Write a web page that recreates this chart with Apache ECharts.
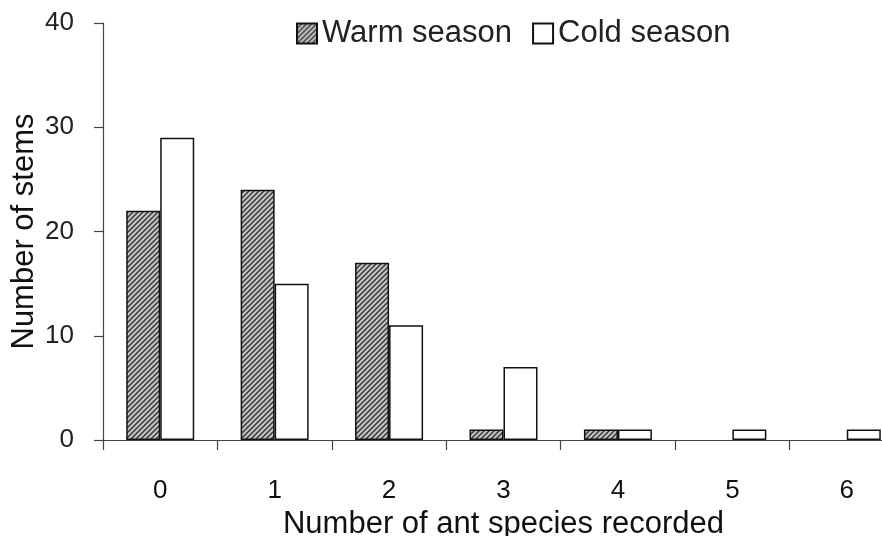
<!DOCTYPE html>
<html>
<head>
<meta charset="utf-8">
<script src="https://cdn.jsdelivr.net/npm/echarts@6/dist/echarts.min.js"></script>
<style>html,body{margin:0;padding:0;background:#fff;}#c{width:882px;height:536px;}</style>
</head>
<body>
<div id="c"></div>
<script>
const categories = ['0', '1', '2', '3', '4', '5', '6'];
const warmSeason = [22, 24, 17, 1, 1, 0, 0];
const coldSeason = [29, 15, 11, 7, 1, 1, 1];
const yTicks = [0, 10, 20, 30, 40];

function hatch() {
  const c = document.createElement('canvas');
  c.width = 5; c.height = 5;
  const g = c.getContext('2d');
  g.fillStyle = '#c4c4c4';
  g.fillRect(0, 0, 5, 5);
  g.strokeStyle = '#333';
  g.lineWidth = 1.4;
  g.beginPath();
  g.moveTo(-1, 6); g.lineTo(6, -1);
  g.moveTo(-1, 1); g.lineTo(1, -1);
  g.moveTo(4, 6); g.lineTo(6, 4);
  g.stroke();
  return c;
}

const hideZero = arr => arr.map(v => (v === 0 ? '-' : v));

const chart = echarts.init(document.getElementById('c'));
const font = 'Liberation Sans, Arial, sans-serif';
chart.setOption({
  backgroundColor: '#fff',
  animation: false,
  textStyle: { fontFamily: font, color: '#111' },
  legend: {
    left: 291, top: 13,
    icon: 'rect',
    itemWidth: 20, itemHeight: 20, itemGap: 20,
    textStyle: { fontSize: 31, fontFamily: font, color: '#222', padding: [0, 0, 0, 0] },
    data: ['Warm season', 'Cold season']
  },
  grid: { left: 103, top: 23, bottom: 96, width: 801, containLabel: false, outerBoundsMode: 'none' },
  xAxis: {
    type: 'category',
    data: categories,
    name: 'Number of ant species recorded',
    nameLocation: 'middle',
    nameGap: 64,
    nameTextStyle: { fontSize: 31, fontFamily: font, color: '#111' },
    axisLine: { lineStyle: { color: '#444', width: 1.2 } },
    axisTick: { show: true, length: 10, inside: false, lineStyle: { color: '#444', width: 1.2 } },
    axisLabel: { fontSize: 26, margin: 38, color: '#111', fontFamily: font }
  },
  yAxis: {
    type: 'value',
    min: yTicks[0], max: yTicks[yTicks.length - 1], interval: 10,
    name: 'Number of stems',
    nameLocation: 'middle',
    nameGap: 63,
    nameMoveOverlap: false,
    nameTextStyle: { fontSize: 31, fontFamily: font, color: '#111' },
    splitLine: { show: false },
    axisLine: { show: true, lineStyle: { color: '#444', width: 1.2 } },
    axisTick: { show: true, length: 9, lineStyle: { color: '#444', width: 1.2 } },
    axisLabel: { fontSize: 26, margin: 29, color: '#222', fontFamily: font }
  },
  series: [
    {
      name: 'Warm season', type: 'bar', data: hideZero(warmSeason),
      barWidth: 34, barGap: '0%',
      itemStyle: { color: { image: hatch(), repeat: 'repeat' }, borderColor: '#111', borderWidth: 1.5 }
    },
    {
      name: 'Cold season', type: 'bar', data: hideZero(coldSeason),
      barWidth: 34, barGap: '0%',
      itemStyle: { color: '#fff', borderColor: '#111', borderWidth: 1.5 }
    }
  ]
});
</script>
</body>
</html>
